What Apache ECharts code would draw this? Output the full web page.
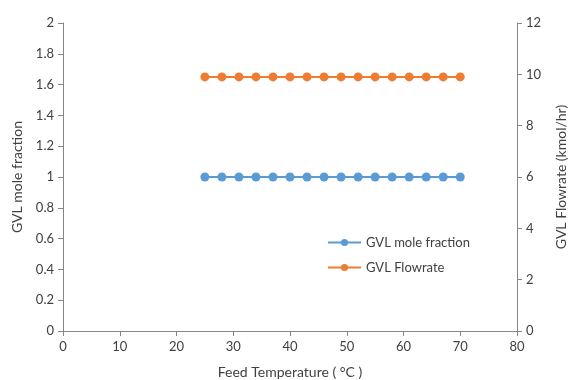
<!DOCTYPE html>
<html>
<head>
<meta charset="utf-8">
<script src="https://cdn.jsdelivr.net/npm/echarts@6/dist/echarts.min.js"></script>
<style>
  html, body { margin: 0; padding: 0; background: #fff; overflow: hidden; }
  #chart { width: 571px; height: 380px; }
</style>
</head>
<body>
<div id="chart"></div>
<script>
// Feed temperatures (°C)
const temperatures = [25, 28, 31, 34, 37, 40, 43, 46, 49, 52, 55, 58, 61, 64, 67, 70];
// GVL mole fraction at each feed temperature
const moleFraction = [1, 1, 1, 1, 1, 1, 1, 1, 1, 1, 1, 1, 1, 1, 1, 1];
// GVL flowrate (kmol/hr) at each feed temperature
const flowrate = [9.9, 9.9, 9.9, 9.9, 9.9, 9.9, 9.9, 9.9, 9.9, 9.9, 9.9, 9.9, 9.9, 9.9, 9.9, 9.9];

const textColor = '#404040';
const axisColor = '#868686';
const font = 'Lato, "Open Sans", sans-serif';

const pair = (xs, ys) => xs.map((x, i) => [x, ys[i]]);

const axisCommon = {
  axisLine: { show: true, lineStyle: { color: axisColor, width: 1 } },
  axisTick: { show: true, length: 5, lineStyle: { color: axisColor } },
  splitLine: { show: false },
  axisLabel: { color: textColor, fontSize: 13, fontFamily: font },
  nameTextStyle: { color: textColor, fontSize: 14, fontFamily: font }
};

const chart = echarts.init(document.getElementById('chart'), null, { width: 571, height: 380 });
chart.setOption({
  animation: false,
  textStyle: { fontFamily: font },
  grid: {
    left: 63, right: 54, top: 23, bottom: 49,
    containLabel: false,
    outerBoundsMode: 'none'
  },
  legend: {
    orient: 'vertical',
    left: 327,
    top: 236,
    padding: 0,
    itemWidth: 33,
    itemHeight: 9,
    itemGap: 12,
    textStyle: { color: textColor, fontSize: 13, fontFamily: font },
    data: ['GVL mole fraction', 'GVL Flowrate']
  },
  xAxis: Object.assign({}, axisCommon, {
    type: 'value',
    min: 0, max: 80, interval: 10,
    name: 'Feed Temperature ( °C )',
    nameLocation: 'middle',
    nameGap: 34,
    axisLabel: Object.assign({}, axisCommon.axisLabel, { margin: 9 })
  }),
  yAxis: [
    Object.assign({}, axisCommon, {
      type: 'value',
      min: 0, max: 2, interval: 0.2,
      position: 'left',
      name: 'GVL mole fraction',
      nameLocation: 'middle',
      nameGap: 38,
      axisLabel: Object.assign({}, axisCommon.axisLabel, {
        margin: 9,
        formatter: v => String(Math.round(v * 10) / 10)
      })
    }),
    Object.assign({}, axisCommon, {
      type: 'value',
      min: 0, max: 12, interval: 2,
      position: 'right',
      name: 'GVL Flowrate (kmol/hr)',
      nameLocation: 'middle',
      nameGap: 37,
      nameRotate: 90,
      axisLabel: Object.assign({}, axisCommon.axisLabel, { margin: 9 })
    })
  ],
  series: [
    {
      name: 'GVL mole fraction',
      type: 'line',
      yAxisIndex: 0,
      data: pair(temperatures, moleFraction),
      symbol: 'circle',
      symbolSize: 9,
      itemStyle: { color: '#5B9BD5' },
      lineStyle: { color: '#5B9BD5', width: 2 }
    },
    {
      name: 'GVL Flowrate',
      type: 'line',
      yAxisIndex: 1,
      data: pair(temperatures, flowrate),
      symbol: 'circle',
      symbolSize: 9,
      itemStyle: { color: '#ED7D31' },
      lineStyle: { color: '#ED7D31', width: 2 }
    }
  ]
});
</script>
</body>
</html>
